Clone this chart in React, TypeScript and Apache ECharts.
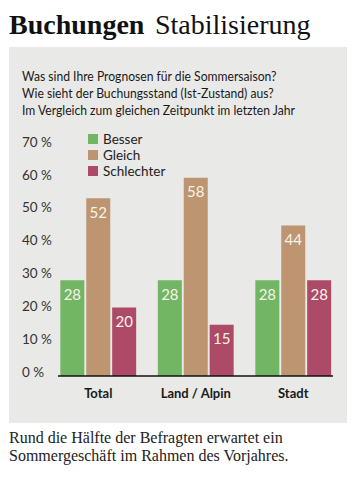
import React, { useEffect, useRef } from "react";
import * as echarts from "echarts";

const categories = ["Total", "Land / Alpin", "Stadt"];
const seriesNames = ["Besser", "Gleich", "Schlechter"];
const besser = [28, 28, 28];
const gleich = [52, 58, 44];
const schlechter = [20, 15, 28];
const titleBold = "Buchungen";
const titleLight = "Stabilisierung";
const subtitleLines = [
  "Was sind Ihre Prognosen für die Sommersaison?",
  "Wie sieht der Buchungsstand (Ist-Zustand) aus?",
  "Im Vergleich zum gleichen Zeitpunkt im letzten Jahr",
];
const footerLines = [
  "Rund die Hälfte der Befragten erwartet ein",
  "Sommergeschäft im Rahmen des Vorjahres.",
];

const colors = ["#72b562", "#be9571", "#ad4a68"];
const SANS = "Lato, Roboto, sans-serif";
const SERIF = "'Liberation Serif', serif";

export default function App() {
  const ref = useRef<HTMLDivElement>(null);
  useEffect(() => {
    if (!ref.current) return;
    const chart = echarts.init(ref.current, null, { renderer: "svg" });
    const values = [besser, gleich, schlechter];
    const option: any = {
      animation: false,
      backgroundColor: "#ffffff",
      textStyle: { fontFamily: SANS },
      graphic: [
        {
          type: "rect",
          z: -10,
          silent: true,
          shape: { x: 9, y: 47, width: 338, height: 376 },
          style: { fill: "#e9e9e7" },
        },
        {
          type: "text",
          left: 9,
          top: 10,
          style: { text: titleBold, font: "bold 28px " + SERIF, fill: "#111" },
        },
        {
          type: "text",
          left: 155,
          top: 10,
          style: { text: titleLight, font: "normal 28px " + SERIF, fill: "#111" },
        },
        {
          type: "text",
          x: 22,
          y: 67,
          scaleX: 0.9,
          style: {
            text: subtitleLines.join("\n"),
            font: "normal 13.5px " + SANS,
            lineHeight: 17,
            fill: "#1a1a1a",
            verticalAlign: "top",
          },
        },
        {
          type: "text",
          left: 9,
          top: 428,
          style: {
            text: footerLines.join("\n"),
            font: "normal 16px " + SERIF,
            lineHeight: 18,
            fill: "#222",
          },
        },
        {
          type: "line",
          z: 10,
          shape: { x1: 58, y1: 376, x2: 333, y2: 376 },
          style: { stroke: "#111", lineWidth: 1.5 },
        },
      ],
      legend: {
        orient: "vertical",
        left: 83,
        top: 127,
        itemWidth: 10,
        itemHeight: 10,
        itemGap: 2,
        icon: "rect",
        data: seriesNames,
        textStyle: { fontSize: 13.5, lineHeight: 14, color: "#222", fontFamily: SANS },
      },
      grid: [
        { left: 49.5, right: 17, top: 136.6, bottom: 112, containLabel: false },
        { left: 49.5, right: 17, top: 141.7, bottom: 116.3, containLabel: false },
      ],
      xAxis: [
        {
          type: "category",
          gridIndex: 0,
          data: categories,
          axisLine: { show: false },
          axisTick: { show: false },
          axisLabel: {
            interval: 0,
            color: "#1a1a1a",
            fontSize: 13,
            fontWeight: "bold",
            margin: 10,
            fontFamily: SANS,
          },
        },
        {
          type: "category",
          gridIndex: 1,
          data: categories,
          show: false,
        },
      ],
      yAxis: [
        {
          type: "value",
          gridIndex: 0,
          min: 0,
          max: 70,
          interval: 10,
          splitLine: { show: false },
          axisLine: { show: false },
          axisTick: { show: false },
          axisLabel: { show: false },
        },
        {
          type: "value",
          gridIndex: 1,
          min: 0,
          max: 70,
          interval: 10,
          splitLine: { show: false },
          axisLine: { show: false },
          axisTick: { show: false },
          axisLabel: {
            align: "left",
            margin: 27.5,
            color: "#333",
            fontSize: 13.5,
            fontFamily: SANS,
            formatter: (v: number) => v + " %",
          },
        },
      ],
      series: seriesNames.map((name, i) => ({
        name,
        type: "bar",
        xAxisIndex: 0,
        yAxisIndex: 0,
        data: values[i],
        barWidth: 24,
        barGap: "8%",
        itemStyle: { color: colors[i] },
        label: {
          show: true,
          position: "insideTop",
          distance: 6,
          color: "#f7f3ea",
          fontSize: 15,
          fontFamily: SANS,
        },
      })),
    };
    chart.setOption(option);
    return () => chart.dispose();
  }, []);
  return (
    <div
      ref={ref}
      style={{ position: "absolute", left: 0, top: 0, width: 359, height: 488 }}
    />
  );
}
